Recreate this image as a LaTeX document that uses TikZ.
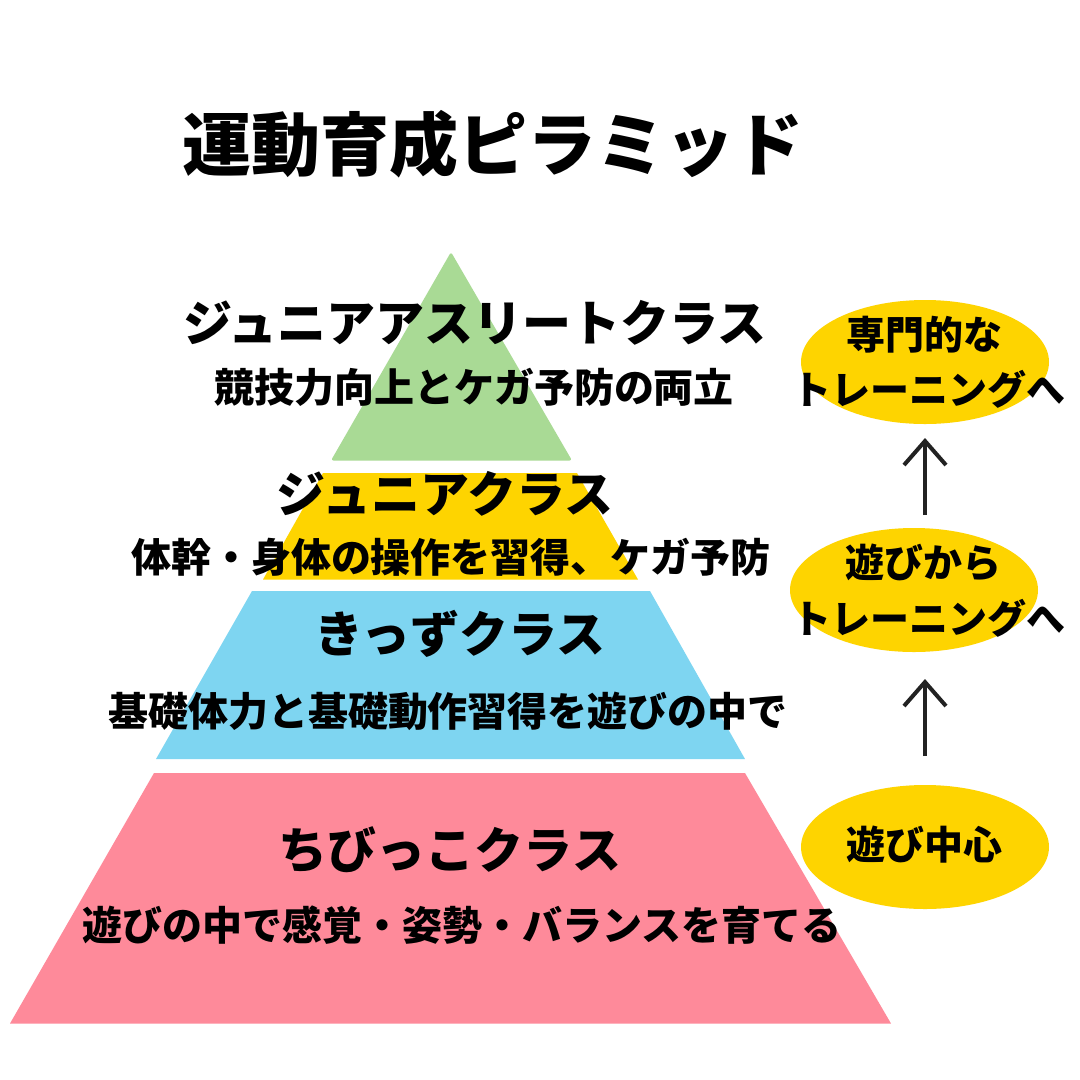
\documentclass[tikz,border=0pt]{standalone}
\usepackage{fontspec}
\setmainfont{Noto Sans CJK JP}
\usetikzlibrary{shapes.geometric,arrows.meta}
\definecolor{pgreen}{RGB}{169,218,149}
\definecolor{pyellow}{RGB}{254,212,0}
\definecolor{pblue}{RGB}{126,213,241}
\definecolor{ppink}{RGB}{254,138,154}
\definecolor{arrowc}{RGB}{34,34,34}
\tikzset{
  lbl/.style={inner sep=0pt, font=\bfseries\fontsize{#1}{#1}\selectfont, text=black},
  oval/.style={ellipse, fill=pyellow, draw=none, minimum width=248pt, minimum height=124pt, inner sep=0pt},
  uparrow/.style={draw=arrowc, line width=4pt, -{Straight Barb[length=24pt,width=42pt,line width=4pt]}}
}
\begin{document}
\begin{tikzpicture}[x=1pt,y=-1pt]
\useasboundingbox (0,0) rectangle (1080,1080);
\fill[white] (0,0) rectangle (1080,1080);
% pyramid
\fill[pgreen, rounded corners=2.5pt] (451,252) -- (572,460.5) -- (331,460.5) -- cycle;
\fill[pyellow] (323,473) -- (577,473) -- (638,579.5) -- (263,579.5) -- cycle;
\fill[pblue] (252,591) -- (650,591) -- (745,759) -- (156,759) -- cycle;
\fill[ppink] (154,773) -- (745,773) -- (891,1023.5) -- (10,1023.5) -- cycle;
% title
\node[lbl=69] (title) at (493,144) {運動育成ピラミッド};
% pyramid labels
\node[lbl=49] (jah) at (475,323) {ジュニアアスリートクラス};
\node[lbl=40] (jas) at (474,387) {競技力向上とケガ予防の両立};
\node[lbl=49] (jh) at (445,494) {ジュニアクラス};
\node[lbl=40] (js) at (451,557) {体幹・身体の操作を習得、ケガ予防};
\node[lbl=49] (kh) at (460,634) {きっずクラス};
\node[lbl=40] (ks) at (448,711) {基礎体力と基礎動作習得を遊びの中で};
\node[lbl=49] (ch) at (450,850) {ちびっこクラス};
\node[lbl=40] (cs) at (462,925) {遊びの中で感覚・姿勢・バランスを育てる};
% ovals
\node[oval] (top) at (925,362) {};
\node[oval] (mid) at (914,590) {};
\node[oval] (bot) at (925,847) {};
\node[lbl=39] (t1) at (924.5,335) {専門的な};
\node[lbl=39] (t2) at (929,389) {トレーニングへ};
\node[lbl=39] (m1) at (923.5,563) {遊びから};
\node[lbl=39] (m2) at (929,618) {トレーニングへ};
\node[lbl=39] (b1) at (924.5,845) {遊び中心};
% arrows
\coordinate (a1s) at (925,515);
\coordinate (a1e) at (925,438);
\coordinate (a2s) at (925,756);
\coordinate (a2e) at (925,679);
\draw[uparrow] (a1s) -- (a1e);
\draw[uparrow] (a2s) -- (a2e);
\end{tikzpicture}
\end{document}
